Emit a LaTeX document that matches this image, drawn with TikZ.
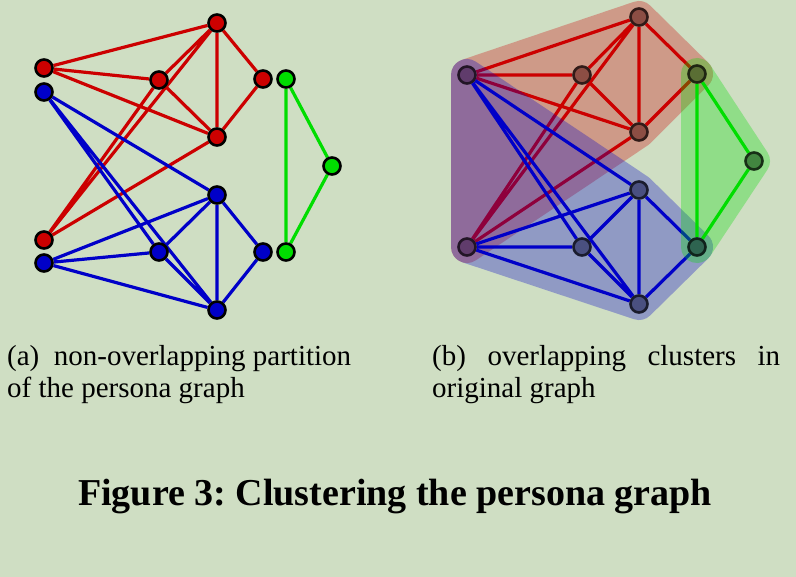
\documentclass[tikz,border=0pt]{standalone}
\usepackage{fontspec}
\setmainfont{Liberation Serif}
\usetikzlibrary{positioning}
\frenchspacing

\definecolor{paper}{RGB}{207,222,195}
\definecolor{gred}{RGB}{204,0,0}
\definecolor{gblue}{RGB}{0,0,200}
\definecolor{ggreen}{RGB}{0,221,0}
\definecolor{nbrown}{RGB}{140,78,68}
\definecolor{npurple}{RGB}{96,60,108}
\definecolor{nslate}{RGB}{74,80,128}
\definecolor{nolive}{RGB}{90,110,52}
\definecolor{nteal}{RGB}{46,100,80}
\definecolor{nleaf}{RGB}{66,134,64}

\pgfdeclarelayer{paperlayer}
\pgfdeclarelayer{hullred}
\pgfdeclarelayer{edgered}
\pgfdeclarelayer{hullblue}
\pgfdeclarelayer{edgeblue}
\pgfdeclarelayer{hullgreen}
\pgfdeclarelayer{edgegreen}
\pgfsetlayers{paperlayer,hullred,edgered,hullblue,edgeblue,hullgreen,edgegreen,main}

\begin{document}
\begin{tikzpicture}[x=1pt, y=-1pt]
		\tikzstyle{vertex}=[circle, draw=black, line width=2.6pt, minimum size=17pt, inner sep=0pt]
		\tikzset{pvertex/.style={vertex, fill=#1, draw=#1!35!black}}
		\tikzstyle{edge}=[line width=3.2pt]
		\tikzstyle{hull}=[line width=32pt, line join=round]
		\tikzstyle{subcap}=[anchor=base west, inner sep=0pt, text width=344pt, align=justify, font=\fontsize{29}{32}\selectfont]

		\begin{pgfonlayer}{paperlayer}
			\fill[paper] (0,0) rectangle (796,577);
		\end{pgfonlayer}
		\useasboundingbox (0,0) rectangle (796,577);

		\node[vertex, fill=gred] (la1) at (44,68) {};
		\node[vertex, fill=gblue] (lb1) at (44,92) {};
		\node[vertex, fill=gred] (lrm) at (159,80) {};
		\node[vertex, fill=gred] (lrt) at (217,23) {};
		\node[vertex, fill=gred] (lrg) at (263,79) {};
		\node[vertex, fill=ggreen] (lg1) at (286,79) {};
		\node[vertex, fill=gred] (lrl) at (217,137) {};
		\node[vertex, fill=ggreen] (lg2) at (332,166) {};
		\node[vertex, fill=gblue] (lbt) at (217,195) {};
		\node[vertex, fill=gred] (la2) at (44,240) {};
		\node[vertex, fill=gblue] (lb2) at (44,263) {};
		\node[vertex, fill=gblue] (lbm) at (159,252) {};
		\node[vertex, fill=gblue] (lbg) at (263,252) {};
		\node[vertex, fill=ggreen] (lg3) at (286,252) {};
		\node[vertex, fill=gblue] (lbb) at (217,310) {};

		\node[pvertex=npurple] (ra1) at (467,75) {};
		\node[pvertex=nbrown] (rrm) at (582,75) {};
		\node[pvertex=nbrown] (rrt) at (639,17) {};
		\node[pvertex=nolive] (rrg) at (697,74) {};
		\node[pvertex=nbrown] (rrl) at (639,132) {};
		\node[pvertex=nleaf] (rg2) at (754,161) {};
		\node[pvertex=nslate] (rbt) at (639,190) {};
		\node[pvertex=npurple] (ra2) at (467,247) {};
		\node[pvertex=nslate] (rbm) at (582,247) {};
		\node[pvertex=nteal] (rbg) at (697,247) {};
		\node[pvertex=nslate] (rbb) at (639,304) {};

		\begin{pgfonlayer}{hullred}
			\begin{scope}[transparency group, opacity=0.3]
				\filldraw[hull, gred] (ra1.center) -- (rrt.center) -- (rrg.center) -- (rrl.center) -- (ra2.center) -- cycle;
			\end{scope}
		\end{pgfonlayer}
		\begin{pgfonlayer}{edgered}
			\draw[edge, gred] (la1) -- (lrt) (la1) -- (lrm) (la1) -- (lrl) (lrm) -- (lrt) (lrm) -- (lrl)
				(lrt) -- (lrl) (lrt) -- (lrg) (lrg) -- (lrl) (la2) -- (lrm) (la2) -- (lrt) (la2) -- (lrl);
			\draw[edge, gred] (ra1) -- (rrt) (ra1) -- (rrm) (ra1) -- (rrl) (rrm) -- (rrt) (rrm) -- (rrl)
				(rrt) -- (rrl) (rrt) -- (rrg) (rrg) -- (rrl) (ra2) -- (rrm) (ra2) -- (rrt) (ra2) -- (rrl);
		\end{pgfonlayer}

		\begin{pgfonlayer}{hullblue}
			\begin{scope}[transparency group, opacity=0.3]
				\filldraw[hull, gblue] (ra1.center) -- (rbt.center) -- (rbg.center) -- (rbb.center) -- (ra2.center) -- cycle;
			\end{scope}
		\end{pgfonlayer}
		\begin{pgfonlayer}{edgeblue}
			\draw[edge, gblue] (lb1) -- (lbt) (lb1) -- (lbm) (lb1) -- (lbb) (lb2) -- (lbt) (lb2) -- (lbm) (lb2) -- (lbb)
				(lbm) -- (lbt) (lbm) -- (lbb) (lbt) -- (lbb) (lbt) -- (lbg) (lbg) -- (lbb);
			\draw[edge, gblue] (ra1) -- (rbt) (ra1) -- (rbm) (ra1) -- (rbb) (ra2) -- (rbt) (ra2) -- (rbm) (ra2) -- (rbb)
				(rbm) -- (rbt) (rbm) -- (rbb) (rbt) -- (rbb) (rbt) -- (rbg) (rbg) -- (rbb);
		\end{pgfonlayer}

		\begin{pgfonlayer}{hullgreen}
			\begin{scope}[transparency group, opacity=0.3]
				\filldraw[hull, ggreen] (rrg.center) -- (rg2.center) -- (rbg.center) -- cycle;
			\end{scope}
		\end{pgfonlayer}
		\begin{pgfonlayer}{edgegreen}
			\draw[edge, ggreen] (lg1) -- (lg3) (lg1) -- (lg2) (lg2) -- (lg3);
			\draw[edge, ggreen] (rrg) -- (rbg) (rrg) -- (rg2) (rg2) -- (rbg);
		\end{pgfonlayer}

		\node[subcap] (capa) at (7,366) {(a)\enspace non-overlapping partition\linebreak of the persona graph};
		\node[subcap, text width=348pt] (capb) at (432,366) {(b) overlapping clusters in\linebreak original graph};
		\node[anchor=base, inner sep=0pt, font=\fontsize{38}{44}\selectfont\bfseries] (figcap) at (395,505) {Figure 3: Clustering the persona graph};

	\end{tikzpicture}
\end{document}
